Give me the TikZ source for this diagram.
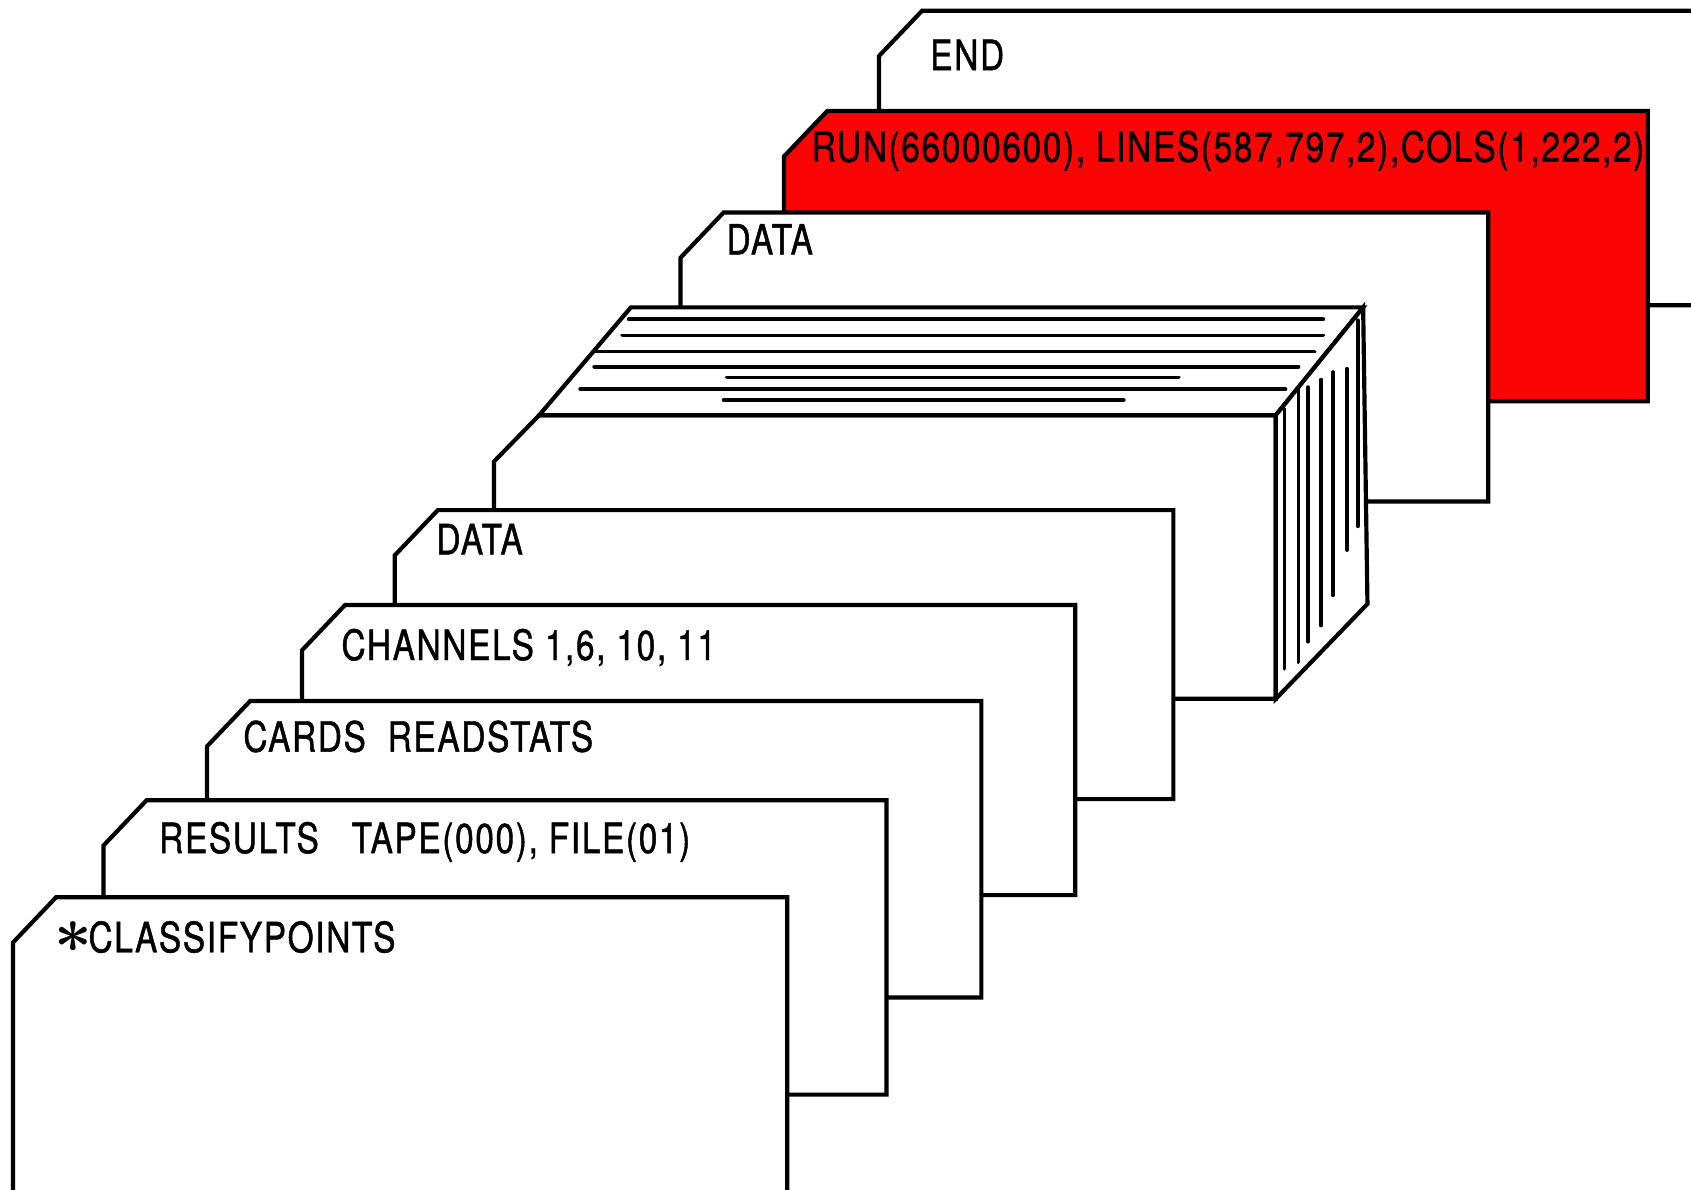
\documentclass[tikz,border=0pt]{standalone}
\usepackage{fontspec}
\newfontfamily\letterfont[FakeStretch=0.8, LetterSpace=4, FakeBold=1.1]{TeX Gyre Heros}
\usetikzlibrary{positioning}
\definecolor{cardred}{RGB}{252,4,4}
\tikzstyle{card}=[draw, line width=1.1pt, fill=white, line join=miter]
\tikzstyle{redcard}=[card, fill=cardred]
\tikzstyle{cardtext}=[anchor=base west, inner sep=0, font=\letterfont\fontsize{11}{13}\selectfont]
\tikzstyle{deckline}=[line width=1pt, line cap=round]
\newcommand{\punchcard}[5][card]{\draw[#1] (#2,#3+42) -- (#2+40,#3) -- (#4,#3) -- (#4,#5) -- (#2,#5) -- cycle;}

\begin{document}
\begin{tikzpicture}[x=0.01cm, y=-0.01cm]
\useasboundingbox (0,0) rectangle (1568,1103);
\clip (0,0) rectangle (1568,1103);

% cards from the back of the deck to the front
\punchcard{815}{10}{1600}{283}
\punchcard[redcard]{727}{103}{1528}{372}
\punchcard{631}{197}{1380}{465}

% the block of data cards
\draw[card] (458,428) -- (500,385) -- (1183,385) -- (1183,648) -- (458,648) -- cycle;
\draw[card] (500,385) -- (585,285) -- (1264,285) -- (1183,385) -- cycle;
\draw[card] (1183,385) -- (1264,285) -- (1268,560) -- (1183,648) -- cycle;
\foreach \y/\xa/\xb in {296/583/1227, 311/577/1227, 326/552/1219, 340/551/1204,
                        350/674/1093, 361/538/1192, 371/671/1042}
    \draw[deckline] (\xa,\y) -- (\xb,\y);
\foreach \x/\ya/\yb in {1191/379/620, 1204/360/614, 1213/359/595, 1225/352/580,
                        1236/345/552, 1249/342/510, 1259/297/488}
    \draw[deckline] (\x,\ya) -- (\x,\yb);

\punchcard{366}{473}{1088}{741}
\punchcard{280}{561}{997}{830}
\punchcard{192}{650}{910}{925}
\punchcard{96}{742}{822}{1015}
\punchcard{12}{832}{730}{1110}

\node[cardtext] (endcard) at (862,65) {END};
\node[cardtext] (runcard) at (752,150) {RUN(66000600), LINES(587,797,2),COLS(1,222,2)};
\node[cardtext] (datacard) at (673,236) {DATA};
\node[cardtext] (datacardb) at (404,514) {DATA};
\node[cardtext] (chancard) at (316,612) {CHANNELS 1,6, 10, 11};
\node[cardtext] (readcard) at (225,697) {CARDS\ \ READSTATS};
\node[cardtext] (rescard) at (147,791) {RESULTS\ \ \ TAPE(000),\ FILE(01)};
\node[cardtext] (classcard) at (50,883) {{\LARGE\boldmath$\ast$}\kern-1pt CLASSIFYPOINTS};
\end{tikzpicture}
\end{document}
